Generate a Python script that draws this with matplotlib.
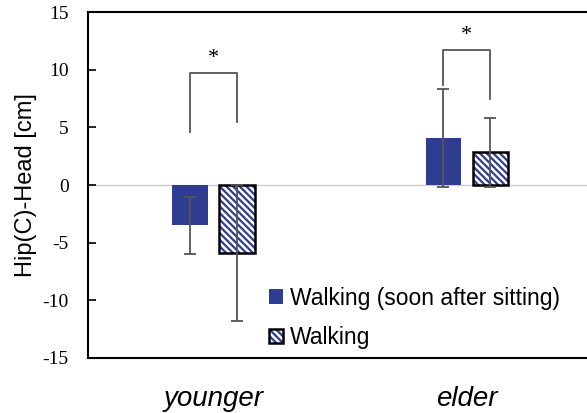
import matplotlib
matplotlib.use("Agg")
import matplotlib.pyplot as plt
from matplotlib.legend_handler import HandlerTuple
import numpy as np

# data
groups = ["younger", "elder"]
soon_mean = [-3.5, 4.1]
soon_sd = [2.5, 4.25]
walk_mean = [-5.9, 2.85]
walk_sd = [5.9, 3.0]
series_names = ["Walking (soon after sitting)", "Walking"]

# significance brackets: (left end, right end, bar height)
brackets = [(4.6, 5.5, 9.75), (8.7, 7.5, 11.7)]
stars = ["*", "*"]

blue = "#2E3D8F"
plt.rcParams["hatch.linewidth"] = 1.6

fig = plt.figure(figsize=(5.87, 4.13), dpi=100)
ax = fig.add_axes([88 / 587, 55 / 413, 505 / 587, 346 / 413])

x = np.arange(len(groups))
w = 0.14
off = 0.091
err_kw = dict(ecolor="#555555", elinewidth=1.3, capsize=4, capthick=1.3)

ax.axhline(0, color="#cccccc", lw=1, zorder=1)
b1 = ax.bar(x - off, soon_mean, w, yerr=soon_sd, color=blue,
            error_kw=err_kw, zorder=2)
# hatched fill (hatch takes the edge colour) then a black outline
b2 = ax.bar(x + off + 0.004, walk_mean, w, color="white", edgecolor=blue,
            linewidth=0, hatch="\\\\\\\\\\", zorder=2)
b3 = ax.bar(x + off + 0.004, walk_mean, w, yerr=walk_sd, fill=False,
            edgecolor="black", linewidth=1.8, error_kw=err_kw, zorder=3)

for i, (l, r, top) in enumerate(brackets):
    xl = x[i] - off
    xr = x[i] + off + 0.004
    ax.plot([xl, xl, xr, xr], [l, top, top, r], color="#555555", lw=1.3)
    ax.text((xl + xr) / 2, top + 1.25, stars[i], ha="center", va="center",
            fontsize=16, family="Liberation Serif")

ax.set_xlim(-0.494, 1.50)
ax.set_ylim(-15, 15)
ax.set_yticks(np.arange(-15, 16, 5))
ax.set_yticklabels([str(v) for v in range(-15, 16, 5)],
                   family="Liberation Serif", fontsize=14)
ax.tick_params(axis="y", direction="in", length=6, width=1.2, pad=14)
ax.set_xticks(x)
ax.set_xticklabels(groups, style="italic", family="Liberation Sans",
                   fontsize=20)
ax.tick_params(axis="x", length=0, pad=20)
ax.set_ylabel("Hip(C)-Head [cm]", family="Liberation Sans", fontsize=17,
              labelpad=4)

for s in ["left", "top", "bottom"]:
    ax.spines[s].set_linewidth(1.5)
ax.spines["right"].set_visible(False)

ax.legend([b1[0], (b2[0], b3[0])], series_names,
          handler_map={tuple: HandlerTuple(ndivide=1)},
          loc="lower left", bbox_to_anchor=(0.327, -0.02), frameon=False,
          prop={"family": "Liberation Sans", "size": 16.5},
          handlelength=0.6, handleheight=0.6, handletextpad=0.3,
          labelspacing=0.7, borderpad=0.2)

fig.savefig("out.png", dpi=100)
